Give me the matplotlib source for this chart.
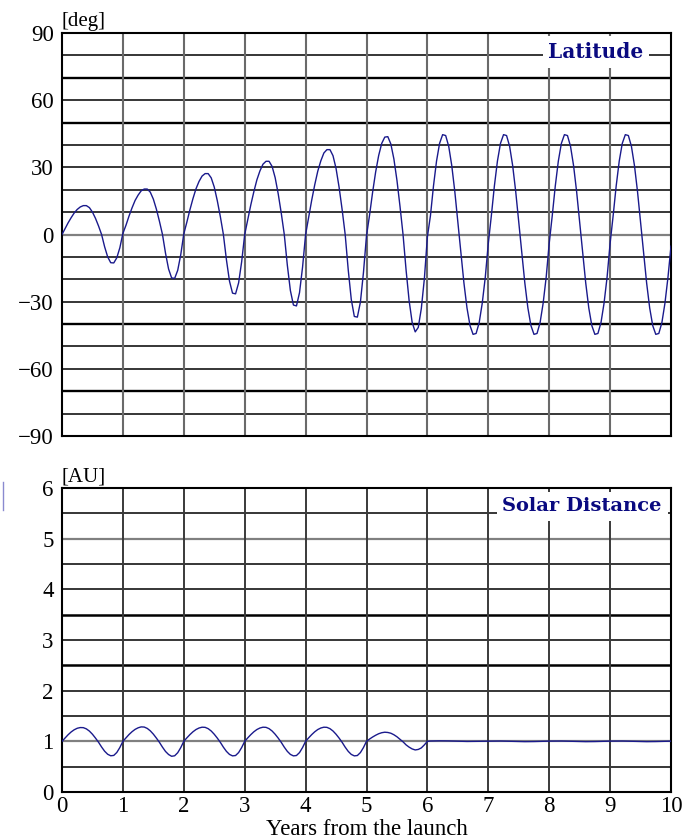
import numpy as np
import matplotlib
matplotlib.use("Agg")
import matplotlib.pyplot as plt

# ---------------- data ----------------
years = np.round(np.arange(0, 10.0001, 0.05), 2)

latitude_deg = [
    0.0, 2.6, 5.2, 7.5, 9.6, 11.2, 12.3, 12.9, 12.9, 12.0, 10.0, 7.2, 3.8, 0.0, -5.5, -10.0, -12.6, -12.7, -10.4, -5.9,
    0.5, 4.1, 8.2, 11.9, 15.2, 17.6, 19.5, 20.3, 20.3, 18.9, 15.8, 11.3, 5.9, 0.0, -8.4, -15.4, -19.4, -19.6, -16.0, -9.0,
    0.3, 5.5, 11.0, 16.0, 20.4, 23.7, 26.1, 27.2, 27.2, 25.3, 21.2, 15.1, 8.0, 0.0, -11.3, -20.8, -26.2, -26.5, -21.6, -12.2,
    0.0, 6.6, 13.2, 19.1, 24.4, 28.4, 31.4, 32.7, 32.7, 30.4, 25.4, 18.2, 9.6, 0.0, -13.7, -25.0, -31.5, -31.9, -26.0, -14.6,
    0.0, 7.7, 15.3, 22.2, 28.3, 32.9, 36.4, 37.9, 37.9, 35.2, 29.5, 21.1, 11.1, 0.0, -15.8, -29.0, -36.6, -36.9, -30.2, -17.0,
    -0.5, 8.6, 18.8, 27.9, 35.3, 40.7, 43.5, 43.7, 40.4, 33.7, 24.2, 12.6, 0.0, -15.9, -29.6, -39.3, -43.5, -41.5, -33.1, -19.8,
    -1.0, 8.4, 21.7, 32.8, 40.7, 44.6, 44.2, 39.4, 30.8, 19.2, 5.6, -8.4, -21.7, -32.8, -40.7, -44.6, -44.2, -39.4, -30.8, -19.2,
    -4.0, 8.4, 21.7, 32.8, 40.7, 44.6, 44.2, 39.4, 30.8, 19.2, 5.6, -8.4, -21.7, -32.8, -40.7, -44.6, -44.2, -39.4, -30.8, -19.2,
    -4.0, 8.4, 21.7, 32.8, 40.7, 44.6, 44.2, 39.4, 30.8, 19.2, 5.6, -8.4, -21.7, -32.8, -40.7, -44.6, -44.2, -39.4, -30.8, -19.2,
    -4.0, 8.4, 21.7, 32.8, 40.7, 44.6, 44.2, 39.4, 30.8, 19.2, 5.6, -8.4, -21.7, -32.8, -40.7, -44.6, -44.2, -39.4, -30.8, -19.2,
    -5.2,
]

solar_distance_au = [
    1.000, 1.066, 1.130, 1.185, 1.228, 1.258, 1.272, 1.270, 1.246, 1.202, 1.140, 1.064, 0.982, 0.888, 0.805, 0.745, 0.715, 0.722, 0.780, 0.878,
    1.000, 1.068, 1.134, 1.190, 1.236, 1.267, 1.285, 1.282, 1.255, 1.207, 1.142, 1.064, 0.980, 0.885, 0.800, 0.740, 0.705, 0.715, 0.775, 0.876,
    1.000, 1.068, 1.132, 1.188, 1.233, 1.263, 1.279, 1.276, 1.250, 1.204, 1.140, 1.064, 0.980, 0.885, 0.802, 0.742, 0.713, 0.720, 0.778, 0.877,
    1.000, 1.068, 1.132, 1.188, 1.233, 1.263, 1.279, 1.276, 1.250, 1.204, 1.140, 1.064, 0.980, 0.885, 0.802, 0.742, 0.713, 0.720, 0.778, 0.877,
    1.000, 1.068, 1.132, 1.188, 1.233, 1.263, 1.279, 1.276, 1.250, 1.204, 1.140, 1.064, 0.980, 0.885, 0.802, 0.742, 0.713, 0.720, 0.778, 0.877,
    1.000, 1.045, 1.085, 1.120, 1.150, 1.170, 1.180, 1.175, 1.160, 1.130, 1.090, 1.040, 0.990, 0.930, 0.885, 0.850, 0.830, 0.840, 0.870, 0.930,
    1.000, 1.006, 1.008, 1.009, 1.010, 1.010, 1.009, 1.008, 1.006, 1.004, 1.002, 1.000, 0.999, 0.998, 0.998, 0.999, 1.000, 1.001, 1.002, 1.003,
    1.004, 1.005, 1.006, 1.006, 1.006, 1.005, 1.004, 1.002, 1.000, 0.998, 0.996, 0.995, 0.994, 0.994, 0.995, 0.996, 0.998, 0.999, 1.000, 1.002,
    1.004, 1.005, 1.006, 1.006, 1.006, 1.005, 1.004, 1.002, 1.000, 0.998, 0.996, 0.995, 0.994, 0.994, 0.995, 0.996, 0.998, 0.999, 1.000, 1.002,
    1.004, 1.005, 1.006, 1.006, 1.006, 1.005, 1.004, 1.002, 1.000, 0.998, 0.996, 0.995, 0.994, 0.994, 0.995, 0.996, 0.998, 0.999, 1.000, 1.002,
    1.003,
]

x_ticks = [0, 1, 2, 3, 4, 5, 6, 7, 8, 9, 10]
lat_ticks = [-90, -60, -30, 0, 30, 60, 90]
dist_ticks = [0, 1, 2, 3, 4, 5, 6]

# ---------------- style ----------------
plt.rcParams['font.family'] = ['Liberation Serif', 'DejaVu Serif']
LINE = '#1a1a8c'
TITLE = '#0a0a80'
TICK_FS = 16.5

fig = plt.figure(figsize=(6.88, 8.39), dpi=100)
W, H = 688.0, 839.0
ax1 = fig.add_axes([62 / W, 1 - 436 / H, (671 - 62) / W, (436 - 33) / H])
ax2 = fig.add_axes([62 / W, 1 - 792 / H, (671 - 62) / W, (792 - 488) / H])

# ---- latitude panel ----
ax1.set_xlim(0, 10)
ax1.set_ylim(-90, 90)
thick_lat = [70, 50, -40, -70]
for v in range(-80, 90, 10):
    if v == 0:
        ax1.axhline(v, color='#808080', lw=1.6, zorder=1)
    elif v in thick_lat:
        ax1.axhline(v, color='black', lw=1.7, zorder=1)
    else:
        ax1.axhline(v, color='black', lw=1.1, zorder=1)
for v in range(1, 10):
    ax1.axvline(v, color='#6a6a6a', lw=1.5, zorder=1)
ax1.plot(years, latitude_deg, color=LINE, lw=1.0, zorder=3)
ax1.set_yticks(lat_ticks)
ax1.set_yticklabels([f"{t}".replace('-', '\u2212') for t in lat_ticks])
ax1.set_xticks([])
ax1.tick_params(axis='y', length=0, pad=6, labelsize=TICK_FS)
for s in ax1.spines.values():
    s.set_linewidth(1.5)
    s.set_color('black')
ax1.text(0.0, 1.004, '[deg]', transform=ax1.transAxes, ha='left', va='bottom', fontsize=15)
ax1.text(0.955, 0.953, 'Latitude', transform=ax1.transAxes, ha='right', va='center',
         fontsize=14.5, fontweight='bold', family='DejaVu Serif', color=TITLE, zorder=5,
         bbox=dict(facecolor='white', edgecolor='none', pad=4))

# ---- distance panel ----
ax2.set_xlim(0, 10)
ax2.set_ylim(0, 6)
for v in np.arange(0.5, 6.0, 0.5):
    if abs(v - 1) < 1e-9 or abs(v - 5) < 1e-9:
        ax2.axhline(v, color='#808080', lw=1.6, zorder=1)
    elif abs(v - 3.5) < 1e-9 or abs(v - 2.5) < 1e-9:
        ax2.axhline(v, color='black', lw=1.8, zorder=1)
    else:
        ax2.axhline(v, color='black', lw=1.1, zorder=1)
for v in range(1, 10):
    ax2.axvline(v, color='#3a3a3a', lw=1.4, zorder=1)
ax2.plot(years, solar_distance_au, color=LINE, lw=1.0, zorder=3)
ax2.set_yticks(dist_ticks)
ax2.set_xticks(x_ticks)
ax2.tick_params(axis='both', length=0, labelsize=TICK_FS)
ax2.tick_params(axis='y', pad=6)
ax2.tick_params(axis='x', pad=3)
for s in ax2.spines.values():
    s.set_linewidth(1.5)
    s.set_color('black')
ax2.set_xlabel('Years from the launch', fontsize=TICK_FS, labelpad=1)
ax2.text(0.0, 1.004, '[AU]', transform=ax2.transAxes, ha='left', va='bottom', fontsize=15)
ax2.text(0.985, 0.94, 'Solar Distance', transform=ax2.transAxes, ha='right', va='center',
         fontsize=14, fontweight='bold', family='DejaVu Serif', color=TITLE, zorder=5,
         bbox=dict(facecolor='white', edgecolor='none', pad=4))

# stray mark at the left edge
fig.add_artist(plt.Line2D([3 / W, 3 / W], [1 - 482 / H, 1 - 510 / H], color='#8a8ad0', lw=1.0))

fig.savefig('out.png', dpi=100)
